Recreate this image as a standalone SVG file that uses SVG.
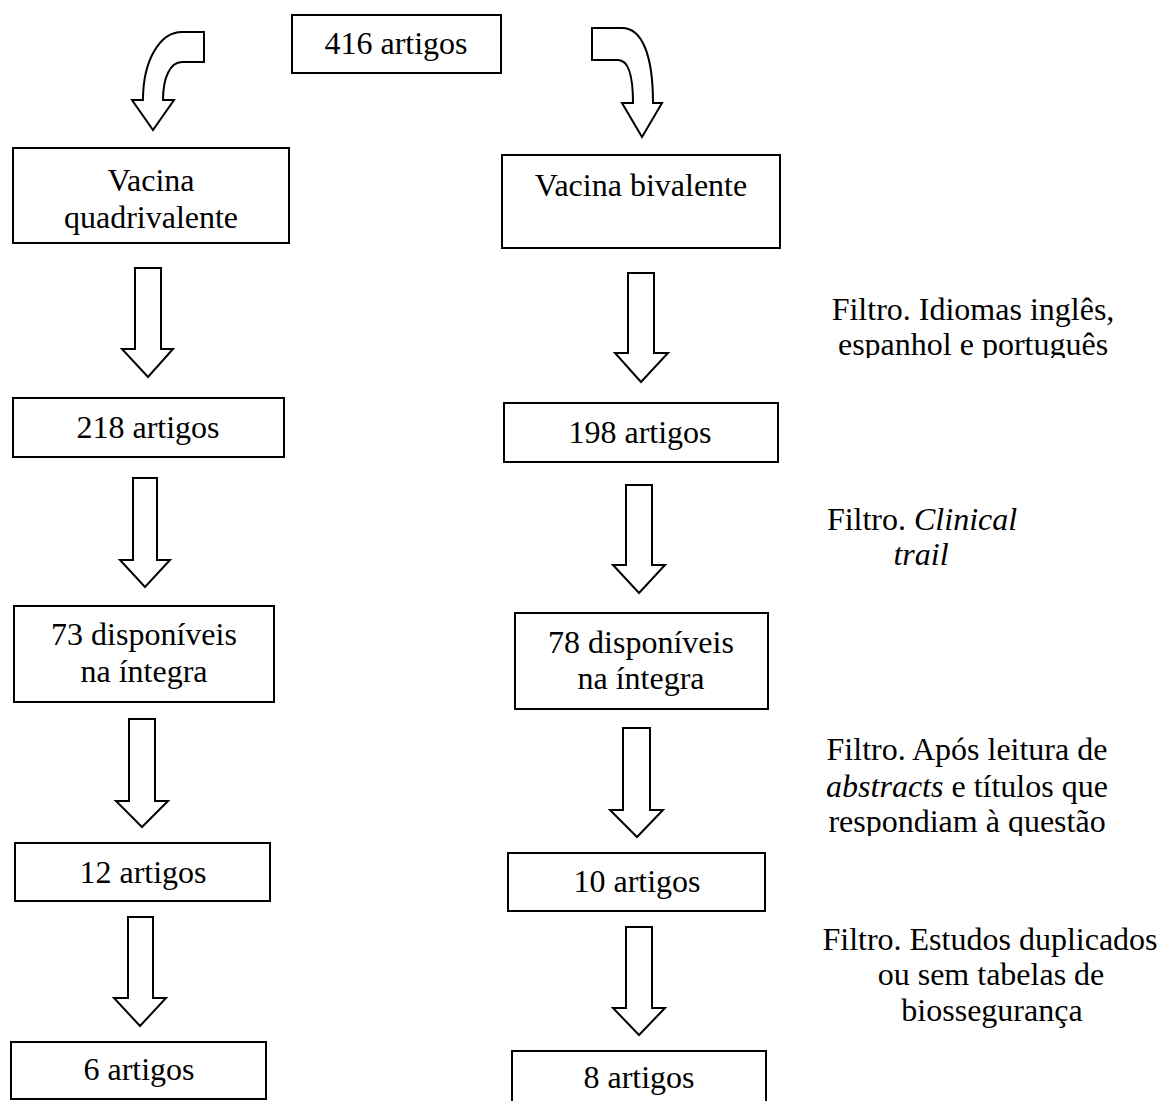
<svg xmlns="http://www.w3.org/2000/svg" width="1159" height="1101" viewBox="0 0 1159 1101">
<style>
.box{fill:#fff;stroke:#000;stroke-width:2}
.arr{fill:#fff;stroke:#000;stroke-width:2;stroke-linejoin:miter}
.t{font-family:"Liberation Serif","Times New Roman",serif;font-size:32px;fill:#000;text-anchor:middle}
.i{font-style:italic}
</style>
<defs>
<clipPath id="clip1"><rect x="780" y="280" width="379" height="78"/></clipPath>
<clipPath id="clip3"><rect x="780" y="720" width="379" height="116"/></clipPath>
</defs>
<rect width="1159" height="1101" fill="#fff"/>
<g id="connectors">
<path class="arr" d="M204,32 L182,32 C160,32 143,60 143,100 L132,100 L153,130 L174,100 L163,100 C163,78 170,62 182,62 L204,62 Z"/>
<path class="arr" d="M592,28 L622,28 C642,28 653,55 653,103 L662,103 L642,137 L622,103 L633,103 C633,75 628,60 618,60 L592,60 Z"/>
<path class="arr" d="M135,268 L161,268 L161,349 L173,349 L148,377 L122,349 L135,349 Z"/>
<path class="arr" d="M133,478 L157,478 L157,560 L170,560 L145,587 L120,560 L133,560 Z"/>
<path class="arr" d="M129,719 L155,719 L155,801 L168,801 L142,827 L116,801 L129,801 Z"/>
<path class="arr" d="M128,917 L153,917 L153,998 L166,998 L140,1026 L114,998 L128,998 Z"/>
<path class="arr" d="M628,273 L654,273 L654,353 L668,353 L641,382 L615,353 L628,353 Z"/>
<path class="arr" d="M626,485 L652,485 L652,565 L665,565 L639,593 L613,565 L626,565 Z"/>
<path class="arr" d="M623,728 L650,728 L650,810 L663,810 L637,837 L610,810 L623,810 Z"/>
<path class="arr" d="M626,927 L652,927 L652,1008 L665,1008 L639,1035 L613,1008 L626,1008 Z"/>
</g>
<g id="n416"><rect class="box" x="292" y="15" width="209" height="58"/><text class="t" x="396" y="54">416 artigos</text></g>
<g id="nQuad"><rect class="box" x="13" y="148" width="276" height="95"/><text class="t" x="151" y="191">Vacina</text><text class="t" x="151" y="228">quadrivalente</text></g>
<g id="nBiv"><rect class="box" x="502" y="155" width="278" height="93"/><text class="t" x="641" y="196">Vacina bivalente</text></g>
<g id="n218"><rect class="box" x="13" y="398" width="271" height="59"/><text class="t" x="148" y="438">218 artigos</text></g>
<g id="n198"><rect class="box" x="504" y="403" width="274" height="59"/><text class="t" x="640" y="443">198 artigos</text></g>
<g id="n73"><rect class="box" x="14" y="606" width="260" height="96"/><text class="t" x="144" y="645">73 disponíveis</text><text class="t" x="144" y="682">na íntegra</text></g>
<g id="n78"><rect class="box" x="515" y="613" width="253" height="96"/><text class="t" x="641" y="653">78 disponíveis</text><text class="t" x="641" y="689">na íntegra</text></g>
<g id="n12"><rect class="box" x="15" y="843" width="255" height="58"/><text class="t" x="143" y="883">12 artigos</text></g>
<g id="n10"><rect class="box" x="508" y="853" width="257" height="58"/><text class="t" x="637" y="892">10 artigos</text></g>
<g id="n6"><rect class="box" x="11" y="1042" width="255" height="57"/><text class="t" x="139" y="1080">6 artigos</text></g>
<g id="n8"><rect class="box" x="512" y="1051" width="254" height="60"/><text class="t" x="639" y="1088">8 artigos</text></g>
<g id="f1" clip-path="url(#clip1)"><text class="t" x="973" y="320">Filtro. Idiomas inglês,</text><text class="t" x="973" y="355">espanhol e português</text></g>
<g id="f2"><text class="t" x="922" y="530">Filtro. <tspan class="i">Clinical</tspan></text><text class="t i" x="921" y="565">trail</text></g>
<g id="f3" clip-path="url(#clip3)"><text class="t" x="967" y="760">Filtro. Após leitura de</text><text class="t" x="967" y="797"><tspan class="i">abstracts</tspan> e títulos que</text><text class="t" x="967" y="832">respondiam à questão</text></g>
<g id="f4"><text class="t" x="990" y="950">Filtro. Estudos duplicados</text><text class="t" x="991" y="985">ou sem tabelas de</text><text class="t" x="992" y="1021">biossegurança</text></g>
</svg>
